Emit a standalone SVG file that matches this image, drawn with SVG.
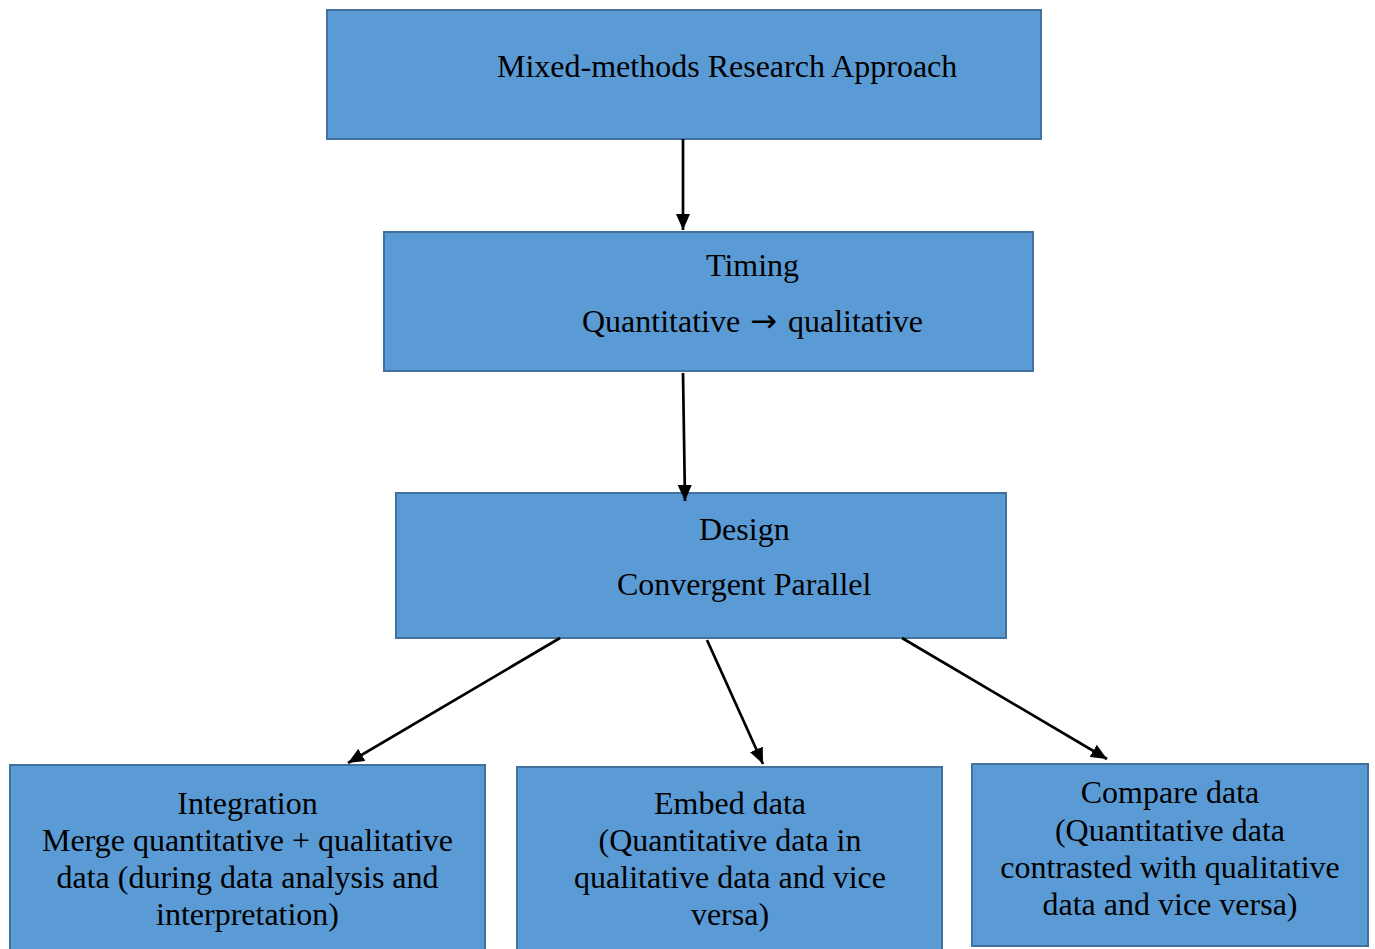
<svg xmlns="http://www.w3.org/2000/svg" width="1375" height="949" viewBox="0 0 1375 949">
<defs>
<style>
.box{fill:#5b9bd5;stroke:#41719c;stroke-width:2}
.t{font-family:"Liberation Serif","Times New Roman",serif;font-size:32px;fill:#000}
.c{text-anchor:middle}
.ar{font-family:"DejaVu Sans",sans-serif;font-size:32px;font-weight:normal}
.conn line{stroke:#000;stroke-width:2.7}
</style>
<marker id="ah" markerUnits="userSpaceOnUse" markerWidth="16" markerHeight="14" viewBox="0 0 16 14" refX="16" refY="7" orient="auto">
<path d="M0,0 L16,7 L0,14 Z" fill="#000"/>
</marker>
</defs>
<rect width="1375" height="949" fill="#fff"/>
<g id="n1">
<rect class="box" x="327" y="10" width="714" height="129"/>
<text class="t" x="497" y="77">Mixed-methods Research Approach</text>
</g>
<g id="n2">
<rect class="box" x="384" y="232" width="649" height="139"/>
<text class="t" x="706" y="276">Timing</text>
<text class="t" x="582" y="332">Quantitative <tspan class="ar" dx="2">→</tspan><tspan dx="3"> qualitative</tspan></text>
</g>
<g id="n3">
<rect class="box" x="396" y="493" width="610" height="145"/>
<text class="t" x="699" y="540">Design</text>
<text class="t" x="617" y="595">Convergent Parallel</text>
</g>
<g id="n4">
<rect class="box" x="10" y="765" width="475" height="195"/>
<text class="t c" x="247.5" y="814">Integration</text>
<text class="t c" x="247.5" y="851">Merge quantitative + qualitative</text>
<text class="t c" x="247.5" y="888">data (during data analysis and</text>
<text class="t c" x="247.5" y="925">interpretation)</text>
</g>
<g id="n5">
<rect class="box" x="517" y="767" width="425" height="195"/>
<text class="t c" x="730" y="814">Embed data</text>
<text class="t c" x="730" y="851">(Quantitative data in</text>
<text class="t c" x="730" y="888">qualitative data and vice</text>
<text class="t c" x="730" y="925">versa)</text>
</g>
<g id="n6">
<rect class="box" x="972" y="764" width="396" height="182"/>
<text class="t c" x="1170" y="803">Compare data</text>
<text class="t c" x="1170" y="841">(Quantitative data</text>
<text class="t c" x="1170" y="878">contrasted with qualitative</text>
<text class="t c" x="1170" y="915">data and vice versa)</text>
</g>
<g id="connectors" class="conn">
<line x1="683" y1="139" x2="683" y2="230" marker-end="url(#ah)"/>
<line x1="683" y1="373" x2="685" y2="501" marker-end="url(#ah)"/>
<line x1="560" y1="638" x2="348" y2="763" marker-end="url(#ah)"/>
<line x1="707" y1="640" x2="763" y2="764" marker-end="url(#ah)"/>
<line x1="902" y1="638" x2="1107" y2="759" marker-end="url(#ah)"/>
</g>
</svg>
